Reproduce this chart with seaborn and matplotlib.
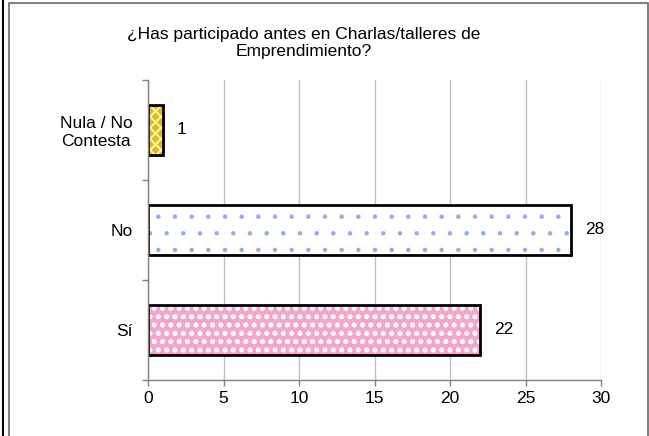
import matplotlib
matplotlib.use("Agg")
import matplotlib.pyplot as plt
import seaborn as sns
import pandas as pd
from matplotlib.patches import Rectangle
from matplotlib.lines import Line2D
from matplotlib.ticker import FixedLocator

categories = ["Nula / No\nContesta", "No", "Sí"]
values = [1, 28, 22]
x_ticks = [0, 5, 10, 15, 20, 25, 30]
title = "¿Has participado antes en Charlas/talleres de\nEmprendimiento?"

face_colors = ["#FFCC00", "#FFFFFF", "#FF99CC"]
hatch_colors = ["#FFF3A8", "#8FB0E8", "#FFFFFF"]
hatches = ["xxx", ".", ".."]
hatch_widths = [1.4, 0.8, 2.4]

sns.set_theme(style="white")
plt.rcParams['font.family'] = ['Liberation Sans', 'DejaVu Sans']
plt.rcParams['hatch.linewidth'] = 1.4

FS = 12.5

df = pd.DataFrame({"cat": categories, "val": values})

fig = plt.figure(figsize=(6.49, 4.36), dpi=100)
ax = fig.add_axes([148/649, 1-380/436, (601-148)/649, 300/436])

sns.barplot(data=df, x="val", y="cat", hue="cat", order=categories,
            hue_order=categories, palette=face_colors, legend=False,
            width=0.5, orient="h", ax=ax)

for i, cont in enumerate(ax.containers):
    for p in cont:
        p.set_hatch(hatches[i])
        p.set_edgecolor(hatch_colors[i])
        p.set_linewidth(0)
        if hasattr(p, "set_hatch_linewidth"):
            p.set_hatch_linewidth(hatch_widths[i])
        ax.add_patch(Rectangle(p.get_xy(), p.get_width(), p.get_height(),
                               fill=False, edgecolor="black", linewidth=2.0,
                               zorder=p.get_zorder() + 0.1))
    ax.bar_label(cont, padding=10, fontsize=FS, color="black")

ax.set_xlim(0, 30)
ax.set_ylim(2.5, -0.5)
ax.set_xticks(x_ticks)
ax.set_xticklabels([str(t) for t in x_ticks])
ax.set_xlabel("")
ax.set_ylabel("")

ax.xaxis.grid(True, color="#BFBFBF", linewidth=1)
ax.yaxis.grid(False)
ax.set_axisbelow(True)

for s in ["top", "right"]:
    ax.spines[s].set_visible(False)
for s in ["left", "bottom"]:
    ax.spines[s].set_color("#808080")
    ax.spines[s].set_linewidth(1.0)

ax.tick_params(axis="x", which="major", direction="out", length=4, width=1,
               color="#808080", labelsize=FS, labelcolor="black", pad=4, bottom=True)
ax.tick_params(axis="y", which="major", length=0, labelsize=FS,
               labelcolor="black", pad=11)
ax.yaxis.set_minor_locator(FixedLocator([-0.5, 0.5, 1.5, 2.5]))
ax.tick_params(axis="y", which="minor", direction="out", length=4, width=1,
               color="#808080", left=True)
for lab in ax.get_yticklabels():
    lab.set_multialignment("center")

fig.text(0.468, 1 - 43/436, title, ha="center", va="center", fontsize=FS,
         linespacing=1.1, color="black")

fig.add_artist(Line2D([3/649, 3/649], [0, 1], color="black", lw=1.5,
                      transform=fig.transFigure))
fig.add_artist(Line2D([9/649, 9/649, 647.5/649, 647.5/649],
                      [0, 1 - 3/436, 1 - 3/436, 0], color="#808080", lw=1.5,
                      transform=fig.transFigure))

fig.savefig("out.png", dpi=100)
